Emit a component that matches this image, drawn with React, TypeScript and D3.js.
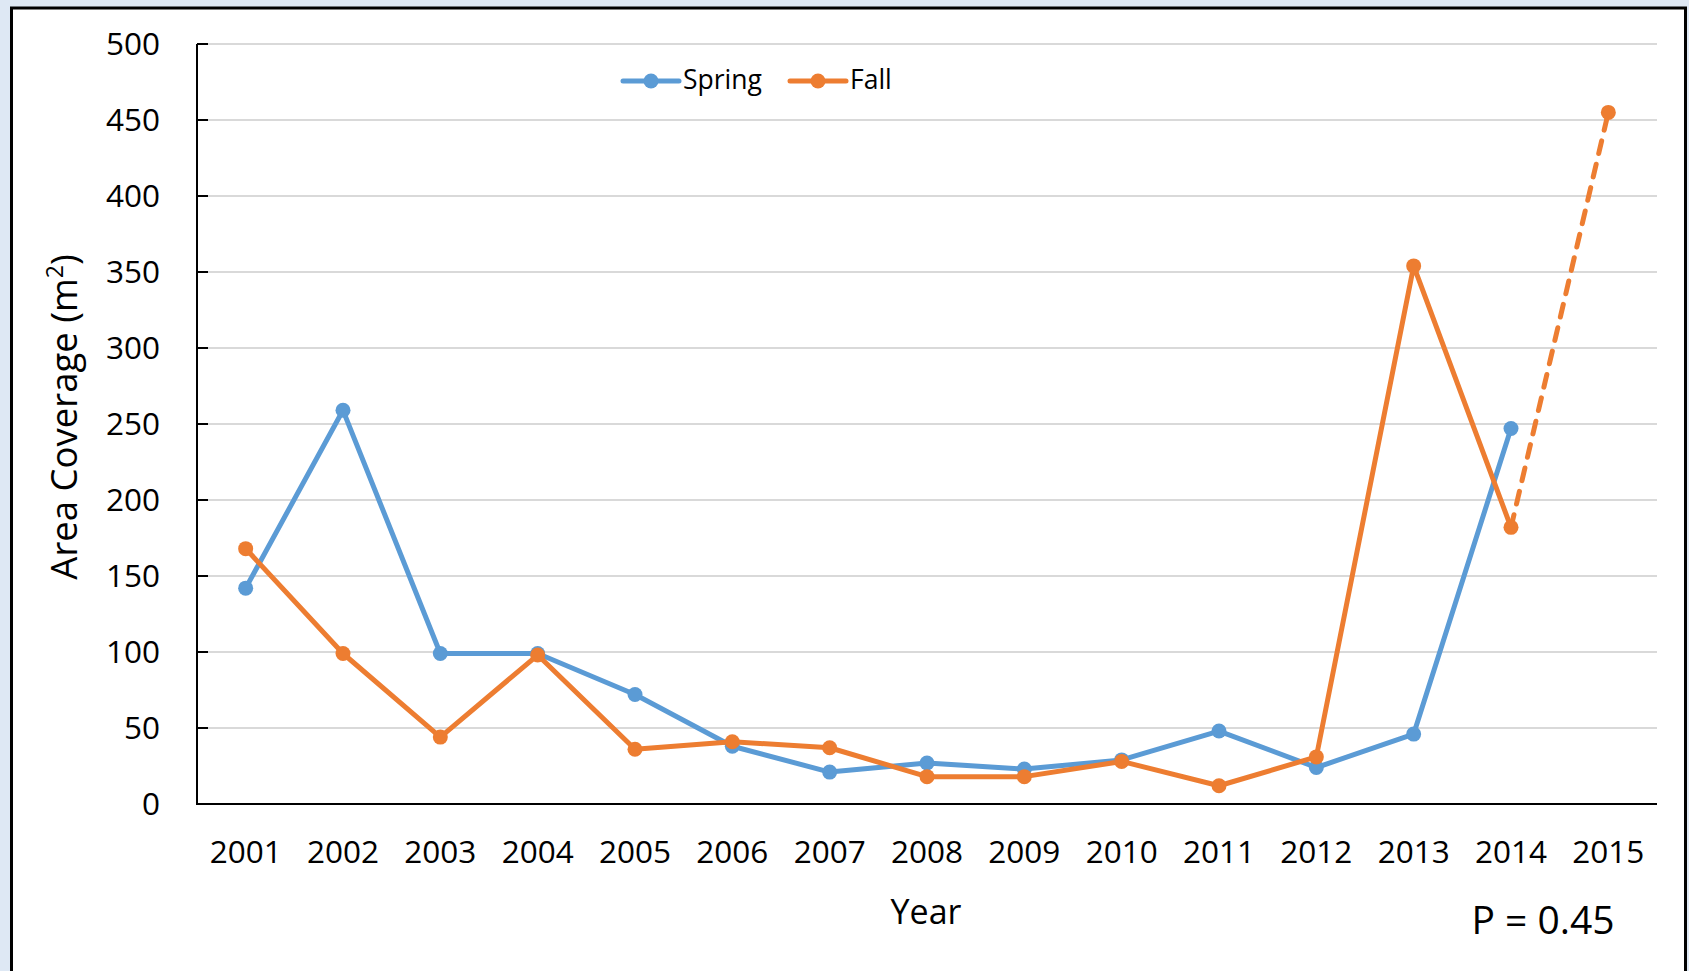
import React from "react";
import * as d3 from "d3";

const years = ["2001","2002","2003","2004","2005","2006","2007","2008","2009","2010","2011","2012","2013","2014","2015"];
const spring: (number | null)[] = [142, 259, 99, 99, 72, 38, 21, 27, 23, 29, 48, 24, 46, 247, null];
const fall: (number | null)[] = [168, 99, 44, 98, 36, 41, 37, 18, 18, 28, 12, 31, 354, 182, 455];
const yTicks = [0, 50, 100, 150, 200, 250, 300, 350, 400, 450, 500];
const seriesNames = ["Spring", "Fall"];
const seriesColors = ["#5B9BD5", "#ED7D31"];
const pLabel = "P = 0.45";

const W = 1689, H = 971;
const FONT = "'Open Sans', 'Noto Sans', sans-serif";

export default function App() {
  const x0 = 197, x1 = 1657, y0 = 804, y1 = 44;
  const x = d3.scaleBand<string>().domain(years).range([x0, x1]);
  const y = d3.scaleLinear().domain([0, 500]).range([y0, y1]);
  const cx = (d: string) => (x(d) as number) + x.bandwidth() / 2;

  const line = d3.line<[string, number | null]>()
    .defined(d => d[1] != null)
    .x(d => cx(d[0]))
    .y(d => y(d[1] as number));

  const springPts = years.map((yr, i) => [yr, spring[i]] as [string, number | null]);
  const fallPts = years.map((yr, i) => [yr, fall[i]] as [string, number | null]);
  const fallSolid = fallPts.slice(0, 14);
  const fallDashed = fallPts.slice(13);

  return (
    <svg width={W} height={H} style={{ position: "absolute", left: 0, top: 0 }} fontFamily={FONT}>
      <rect x={0} y={0} width={W} height={H} fill="#DEE8F4" />
      <rect x={11.5} y={8} width={1674} height={H + 10} fill="#fff" stroke="#000" strokeWidth={3} />
      {yTicks.filter(t => t > 0).map(t => (
        <line key={"g" + t} x1={x0} x2={x1} y1={y(t)} y2={y(t)} stroke="#D9D9D9" strokeWidth={2} />
      ))}
      {yTicks.map(t => (
        <line key={"t" + t} x1={x0} x2={x0 + 11} y1={y(t)} y2={y(t)} stroke="#000" strokeWidth={2} />
      ))}
      <line x1={x0} x2={x0} y1={y1} y2={y0 + 1} stroke="#000" strokeWidth={2} />
      <line x1={x0} x2={x1} y1={y0} y2={y0} stroke="#000" strokeWidth={2} />
      {yTicks.map(t => (
        <text key={"l" + t} x={160} y={y(t)} dy="0.35em" textAnchor="end" fontSize={31.5} fill="#000">{t}</text>
      ))}
      {years.map(yr => (
        <text key={yr} x={cx(yr)} y={863} textAnchor="middle" fontSize={31.5} fill="#000">{yr}</text>
      ))}
      <path d={line(springPts) || ""} fill="none" stroke={seriesColors[0]} strokeWidth={5} strokeLinejoin="round" />
      <path d={line(fallSolid) || ""} fill="none" stroke={seriesColors[1]} strokeWidth={5} strokeLinejoin="round" />
      <path d={line(fallDashed) || ""} fill="none" stroke={seriesColors[1]} strokeWidth={5} strokeDasharray="13 11" strokeLinecap="round" />
      {springPts.filter(d => d[1] != null).map(d => (
        <circle key={"s" + d[0]} cx={cx(d[0])} cy={y(d[1] as number)} r={7.5} fill={seriesColors[0]} />
      ))}
      {fallPts.filter(d => d[1] != null).map(d => (
        <circle key={"f" + d[0]} cx={cx(d[0])} cy={y(d[1] as number)} r={7.5} fill={seriesColors[1]} />
      ))}
      {seriesNames.map((n, i) => {
        const lx = i === 0 ? 623 : 790;
        return (
          <g key={n}>
            <line x1={lx} x2={lx + 56} y1={81} y2={81} stroke={seriesColors[i]} strokeWidth={5} strokeLinecap="round" />
            <circle cx={lx + 28} cy={81} r={7.5} fill={seriesColors[i]} />
            <text x={lx + 60} y={89} fontSize={26.5} fill="#000">{n}</text>
          </g>
        );
      })}
      <text x={926} y={924} textAnchor="middle" fontSize={34} fill="#000">Year</text>
      <text transform="translate(77,417) rotate(-90)" textAnchor="middle" fontSize={36.5} fill="#000">
        Area Coverage (m<tspan fontSize={23} dy={-14}>2</tspan><tspan dy={14}>)</tspan>
      </text>
      <text x={1543} y={934} textAnchor="middle" fontSize={39} fill="#000">{pLabel}</text>
    </svg>
  );
}
